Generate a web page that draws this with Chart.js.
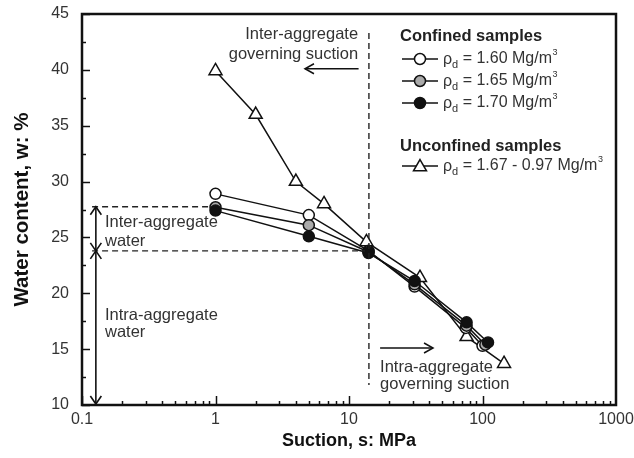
<!DOCTYPE html>
<html><head><meta charset="utf-8">
<script src="https://cdn.jsdelivr.net/npm/chart.js@4.4.1/dist/chart.umd.min.js"></script>
<style>html,body{margin:0;padding:0;background:#fff}#wrap{width:634px;height:458px}</style>
</head><body><div id="wrap"><canvas id="c" width="634" height="458"></canvas></div>
<script>
// ---- data ----
const suction160 = [1, 5, 14, 31, 75, 100];
const water160   = [28.9, 27.0, 23.8, 20.6, 16.9, 15.3];
const suction165 = [1, 5, 14, 31, 76, 105];
const water165   = [27.7, 26.1, 23.7, 20.8, 17.1, 15.4];
const suction170 = [1, 5, 14, 31, 76, 110];
const water170   = [27.4, 25.1, 23.6, 21.1, 17.4, 15.6];
const suctionUnc = [1, 2, 4, 6.5, 13.5, 34, 76, 145];
const waterUnc   = [39.9, 36.0, 30.0, 28.0, 24.6, 21.4, 16.1, 13.7];
const xTickValues = [0.1, 1, 10, 100, 1000];
const xTickLabels = ['0.1', '1', '10', '100', '1000'];
const yTickValues = [10, 15, 20, 25, 30, 35, 40, 45];
const yTickLabels = ['10', '15', '20', '25', '30', '35', '40', '45'];
const legendLabels = ['1.60', '1.65', '1.70'];
const legendUnconfined = '1.67 - 0.97';
// annotation anchors in data units
const govSuction = 14.1;          // vertical dashed line
const interLevel = 27.75;         // upper horizontal dashed line
const intraLevel = 23.8;          // lower horizontal dashed line
const arrowSuction = 0.127;       // double-arrow position

const pts = (xs, ys) => xs.map((x, i) => ({x, y: ys[i]}));
const FONT = '"Liberation Sans", Arial, Helvetica, sans-serif';
const TXT = '#333';

function drawMarker(ctx, style, x, y, r, fill) {
  ctx.save();
  ctx.beginPath();
  if (style === 'circle') {
    ctx.arc(x, y, r, 0, Math.PI * 2);
  } else {
    ctx.moveTo(x, y - r);
    ctx.lineTo(x + r * Math.sin(Math.PI / 3), y + r / 2);
    ctx.lineTo(x - r * Math.sin(Math.PI / 3), y + r / 2);
    ctx.closePath();
  }
  ctx.fillStyle = fill; ctx.fill();
  ctx.lineWidth = 1.5; ctx.strokeStyle = '#111'; ctx.stroke();
  ctx.restore();
}

function arrowHead(ctx, x, y, ang, len, half) {
  const ca = Math.cos(ang), sa = Math.sin(ang);
  ctx.beginPath();
  ctx.moveTo(x - len * ca + half * sa, y - len * sa - half * ca);
  ctx.lineTo(x, y);
  ctx.lineTo(x - len * ca - half * sa, y - len * sa + half * ca);
  ctx.stroke();
}

const decor = {
  id: 'decor',
  afterDatasetsDraw(chart) {
    const ctx = chart.ctx, a = chart.chartArea;
    const xs = chart.scales.x, ys = chart.scales.y;
    const X = v => xs.getPixelForValue(v), Y = v => ys.getPixelForValue(v);
    ctx.save();
    ctx.strokeStyle = '#111';
    // ticks (inward)
    ctx.lineWidth = 1.5;
    for (let d = -1; d < 3; d++) {
      for (let m = 1; m <= 9; m++) {
        const v = m * Math.pow(10, d);
        const px = Math.round(X(v)) + 0.5;
        const len = m === 1 ? 9 : 4;
        ctx.beginPath(); ctx.moveTo(px, a.bottom); ctx.lineTo(px, a.bottom - len); ctx.stroke();
      }
    }
    for (let v = 10; v <= 45; v += 2.5) {
      const py = Math.round(Y(v)) + 0.5;
      const len = (v % 5 === 0) ? 8 : 4;
      ctx.beginPath(); ctx.moveTo(a.left, py); ctx.lineTo(a.left + len, py); ctx.stroke();
    }
    // frame
    ctx.lineWidth = 2.5;
    ctx.strokeRect(a.left, a.top, a.right - a.left, a.bottom - a.top);

    // dashed lines
    ctx.lineWidth = 1.4;
    ctx.setLineDash([6, 4]);
    ctx.strokeStyle = '#222';
    ctx.beginPath();
    ctx.moveTo(X(govSuction), Y(43.3)); ctx.lineTo(X(govSuction), Y(11.8));
    ctx.moveTo(X(0.119), Y(interLevel)); ctx.lineTo(X(0.91), Y(interLevel));
    ctx.moveTo(X(0.119), Y(intraLevel)); ctx.lineTo(X(13.2), Y(intraLevel));
    ctx.stroke();
    ctx.setLineDash([]);

    // double arrows
    ctx.strokeStyle = '#111';
    ctx.lineWidth = 1.6;
    const ax = X(arrowSuction);
    ctx.beginPath(); ctx.moveTo(ax, Y(interLevel)); ctx.lineTo(ax, Y(10) - 1); ctx.stroke();
    arrowHead(ctx, ax, Y(interLevel), -Math.PI / 2, 8, 5.5);
    arrowHead(ctx, ax, Y(intraLevel), Math.PI / 2, 8, 5.5);
    arrowHead(ctx, ax, Y(intraLevel), -Math.PI / 2, 8, 5.5);
    arrowHead(ctx, ax, Y(10) - 1, Math.PI / 2, 8, 5.5);

    // governing suction arrows
    ctx.lineWidth = 1.5;
    ctx.beginPath(); ctx.moveTo(X(11.8), Y(40.1)); ctx.lineTo(X(4.68), Y(40.1)); ctx.stroke();
    arrowHead(ctx, X(4.68), Y(40.1), Math.PI, 9, 5);
    ctx.beginPath(); ctx.moveTo(X(17.1), Y(15.1)); ctx.lineTo(X(42.6), Y(15.1)); ctx.stroke();
    arrowHead(ctx, X(42.6), Y(15.1), 0, 9, 5);

    // annotation texts
    ctx.fillStyle = TXT;
    ctx.font = '16.5px ' + FONT;
    ctx.textBaseline = 'middle';
    ctx.textAlign = 'right';
    ctx.fillText('Inter-aggregate', X(11.7), Y(43.2));
    ctx.fillText('governing suction', X(11.7), Y(41.4));
    ctx.textAlign = 'left';
    ctx.fillText('Intra-aggregate', X(17.1), Y(13.4));
    ctx.fillText('governing suction', X(17.1), Y(11.8));
    ctx.fillText('Inter-aggregate', X(0.1487), Y(26.3));
    ctx.fillText('water', X(0.1487), Y(24.6));
    ctx.fillText('Intra-aggregate', X(0.1487), Y(18.06));
    ctx.fillText('water', X(0.1487), Y(16.45));

    // legend
    const lx0 = 402, lx1 = 438, lmx = 420, ltx = 443;
    ctx.font = 'bold 16.5px ' + FONT;
    ctx.fillStyle = '#222';
    ctx.fillText('Confined samples', 400, 36);
    ctx.fillText('Unconfined samples', 400, 146);
    const rows = [
      {y: 59, lab: legendLabels[0], st: 'circle', f: '#fff'},
      {y: 81, lab: legendLabels[1], st: 'circle', f: '#aaa'},
      {y: 103, lab: legendLabels[2], st: 'circle', f: '#111'},
      {y: 166, lab: legendUnconfined, st: 'triangle', f: '#fff'}
    ];
    rows.forEach(r => {
      ctx.strokeStyle = '#111'; ctx.lineWidth = 1.5;
      ctx.beginPath(); ctx.moveTo(lx0, r.y); ctx.lineTo(lx1, r.y); ctx.stroke();
      drawMarker(ctx, r.st, lmx, r.st === 'circle' ? r.y : r.y + 1, r.st === 'circle' ? 5.5 : 7.5, r.f);
      ctx.fillStyle = TXT;
      let x = ltx;
      ctx.font = '16px ' + FONT;
      ctx.fillText('\u03C1', x, r.y + 1); x += ctx.measureText('\u03C1').width;
      ctx.font = '11px ' + FONT;
      ctx.fillText('d', x, r.y + 6); x += ctx.measureText('d').width;
      ctx.font = '16px ' + FONT;
      const s = ' = ' + r.lab + ' Mg/m';
      ctx.fillText(s, x, r.y); x += ctx.measureText(s).width;
      ctx.font = '9px ' + FONT;
      ctx.fillText('3', x + 0.5, r.y - 6);
    });

    // axis titles
    ctx.fillStyle = '#111';
    ctx.font = 'bold 18px ' + FONT;
    ctx.textAlign = 'center';
    ctx.fillText('Suction, s: MPa', (a.left + a.right) / 2, 441);
    ctx.save();
    ctx.translate(22, (a.top + a.bottom) / 2);
    ctx.rotate(-Math.PI / 2);
    ctx.font = 'bold 20.5px ' + FONT;
    ctx.fillText('Water content, w: %', 0, 0);
    ctx.restore();
    ctx.restore();
  }
};

const lineDs = (label, data, style, fill, radius, order) => ({
  label, data, showLine: true, order,
  borderColor: '#111', borderWidth: 1.5,
  pointStyle: style, pointRadius: radius, pointHoverRadius: radius,
  pointBackgroundColor: fill, pointBorderColor: '#111', pointBorderWidth: 1.5,
  tension: 0, clip: false
});

new Chart(document.getElementById('c'), {
  type: 'scatter',
  data: {
    datasets: [
      lineDs('1.70', pts(suction170, water170), 'circle', '#111', 5.5, 1),
      lineDs('1.65', pts(suction165, water165), 'circle', '#aaa', 5.5, 2),
      lineDs('1.60', pts(suction160, water160), 'circle', '#fff', 5.5, 3),
      lineDs('unc', pts(suctionUnc, waterUnc), 'triangle', '#fff', 7.5, 4)
    ]
  },
  options: {
    responsive: false, animation: false, devicePixelRatio: 1,
    layout: {padding: {left: 0, top: 14, right: 18, bottom: 0}},
    plugins: {legend: {display: false}, tooltip: {enabled: false}},
    scales: {
      x: {
        type: 'logarithmic', min: 0.1, max: 1000,
        grid: {display: false, drawTicks: false}, border: {display: false},
        afterBuildTicks: s => { s.ticks = xTickValues.map(v => ({value: v})); },
        afterFit: s => { s.height = 53; s.paddingLeft = 0; s.paddingRight = 0; },
        ticks: {
          autoSkip: false, maxRotation: 0, padding: 5, color: TXT,
          font: {family: FONT, size: 16},
          callback: (v) => { const i = xTickValues.findIndex(t => Math.abs(t - v) < 1e-9 * Math.max(1, v)); return i >= 0 ? xTickLabels[i] : ''; }
        }
      },
      y: {
        type: 'linear', min: 10, max: 45,
        grid: {display: false, drawTicks: false}, border: {display: false},
        afterBuildTicks: s => { s.ticks = yTickValues.map(v => ({value: v})); },
        afterFit: s => { s.width = 82; s.paddingTop = 0; s.paddingBottom = 0; },
        ticks: {
          autoSkip: false, padding: 13, color: TXT,
          font: {family: FONT, size: 16},
          callback: (v) => { const i = yTickValues.indexOf(v); return i >= 0 ? yTickLabels[i] : ''; }
        }
      }
    }
  },
  plugins: [decor]
});
</script>
</body></html>
